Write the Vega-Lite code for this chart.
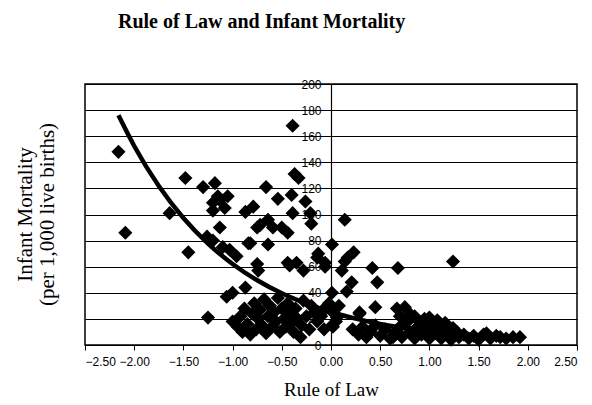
{
  "$schema": "https://vega.github.io/schema/vega-lite/v6.json",
  "width": 492,
  "height": 261,
  "autosize": "none",
  "padding": {"left": 85, "top": 84, "right": 15, "bottom": 60},
  "background": "white",
  "title": {
    "text": "Rule of Law and Infant Mortality",
    "font": "Liberation Serif",
    "fontSize": 20,
    "fontWeight": "bold",
    "color": "black",
    "anchor": "start",
    "frame": "group",
    "dx": 33,
    "offset": 46
  },
  "config": {
    "view": {"stroke": "black", "strokeWidth": 1.5},
    "axis": {
      "labelFont": "Liberation Sans",
      "labelFontSize": 12,
      "labelColor": "black",
      "titleFont": "Liberation Serif",
      "titleFontSize": 19,
      "titleFontWeight": "normal",
      "titleColor": "black",
      "domainColor": "black",
      "tickColor": "black"
    }
  },
  "datasets": {
    "pts": [
      {"law": -2.16, "im": 148}, {"law": -2.09, "im": 86}, {"law": -1.64, "im": 101}, {"law": -1.48, "im": 128},
      {"law": -1.45, "im": 71}, {"law": -1.30, "im": 121}, {"law": -1.25, "im": 21}, {"law": -1.18, "im": 124},
      {"law": -1.15, "im": 114}, {"law": -1.20, "im": 109}, {"law": -1.13, "im": 111}, {"law": -1.05, "im": 114},
      {"law": -1.08, "im": 105}, {"law": -1.20, "im": 103}, {"law": -1.13, "im": 90}, {"law": -1.26, "im": 83},
      {"law": -1.20, "im": 80}, {"law": -1.10, "im": 75}, {"law": -1.03, "im": 73}, {"law": -0.96, "im": 68},
      {"law": -0.87, "im": 102}, {"law": -0.79, "im": 106}, {"law": -0.82, "im": 78}, {"law": -0.75, "im": 90},
      {"law": -0.72, "im": 92}, {"law": -0.64, "im": 96}, {"law": -0.59, "im": 90}, {"law": -0.66, "im": 121},
      {"law": -0.54, "im": 112}, {"law": -0.40, "im": 115}, {"law": -0.39, "im": 168}, {"law": -0.37, "im": 131},
      {"law": -0.33, "im": 128}, {"law": -0.26, "im": 110}, {"law": -0.39, "im": 101}, {"law": -0.21, "im": 101},
      {"law": -0.20, "im": 93}, {"law": -0.50, "im": 90}, {"law": -0.44, "im": 86}, {"law": -0.64, "im": 77},
      {"law": -0.84, "im": 78}, {"law": -0.75, "im": 62}, {"law": -0.74, "im": 57}, {"law": -0.44, "im": 63},
      {"law": -0.35, "im": 63}, {"law": -0.42, "im": 61}, {"law": -0.28, "im": 57}, {"law": -0.13, "im": 70},
      {"law": -0.14, "im": 67}, {"law": -0.06, "im": 63}, {"law": -0.06, "im": 60}, {"law": 0.01, "im": 77},
      {"law": 0.14, "im": 96}, {"law": 0.23, "im": 71}, {"law": 0.17, "im": 67}, {"law": 0.14, "im": 64},
      {"law": 0.11, "im": 57}, {"law": 0.42, "im": 59}, {"law": 0.68, "im": 59}, {"law": 0.47, "im": 48},
      {"law": 1.24, "im": 64}, {"law": 0.21, "im": 48}, {"law": 0.16, "im": 41}, {"law": 0.01, "im": 40},
      {"law": -1.06, "im": 37}, {"law": -1.00, "im": 40}, {"law": -0.87, "im": 44}, {"law": 0.45, "im": 29},
      {"law": 0.67, "im": 28}, {"law": 0.75, "im": 29}, {"law": 0.29, "im": 24}, {"law": 0.01, "im": 15},
      {"law": 0.80, "im": 24}, {"law": 1.00, "im": 21}, {"law": 1.08, "im": 19}, {"law": 1.16, "im": 17},
      {"law": 1.24, "im": 13}, {"law": -0.31, "im": 6},
      {"law": -1.00, "im": 18}, {"law": -0.95, "im": 14}, {"law": -0.92, "im": 22}, {"law": -0.90, "im": 10},
      {"law": -0.88, "im": 28}, {"law": -0.85, "im": 16}, {"law": -0.82, "im": 8}, {"law": -0.80, "im": 24},
      {"law": -0.78, "im": 32}, {"law": -0.76, "im": 12}, {"law": -0.74, "im": 20}, {"law": -0.72, "im": 27},
      {"law": -0.70, "im": 15}, {"law": -0.68, "im": 35}, {"law": -0.66, "im": 9}, {"law": -0.64, "im": 22},
      {"law": -0.62, "im": 30}, {"law": -0.60, "im": 14}, {"law": -0.58, "im": 25}, {"law": -0.56, "im": 18},
      {"law": -0.54, "im": 36}, {"law": -0.52, "im": 10}, {"law": -0.50, "im": 28}, {"law": -0.48, "im": 20},
      {"law": -0.46, "im": 14}, {"law": -0.44, "im": 32}, {"law": -0.42, "im": 24}, {"law": -0.40, "im": 17},
      {"law": -0.38, "im": 10}, {"law": -0.36, "im": 28}, {"law": -0.34, "im": 20}, {"law": -0.30, "im": 15},
      {"law": -0.28, "im": 34}, {"law": -0.25, "im": 22}, {"law": -0.22, "im": 12}, {"law": -0.20, "im": 30},
      {"law": -0.17, "im": 25}, {"law": -0.14, "im": 18}, {"law": -0.10, "im": 22}, {"law": -0.05, "im": 28},
      {"law": -0.02, "im": 32}, {"law": 0.02, "im": 25}, {"law": 0.05, "im": 18}, {"law": -0.07, "im": 12},
      {"law": 0.08, "im": 30}, {"law": -0.08, "im": 27}, {"law": 0.06, "im": 21}, {"law": 0.29, "im": 25},
      {"law": 0.22, "im": 12}, {"law": 0.28, "im": 8}, {"law": 0.32, "im": 14}, {"law": 0.36, "im": 6},
      {"law": 0.40, "im": 10}, {"law": 0.45, "im": 15}, {"law": 0.50, "im": 7}, {"law": 0.55, "im": 12},
      {"law": 0.60, "im": 5}, {"law": 0.65, "im": 10}, {"law": 0.70, "im": 14}, {"law": 0.72, "im": 6},
      {"law": 0.78, "im": 18}, {"law": 0.80, "im": 10}, {"law": 0.85, "im": 5}, {"law": 0.88, "im": 14},
      {"law": 0.92, "im": 8}, {"law": 0.95, "im": 12}, {"law": 1.00, "im": 5}, {"law": 1.02, "im": 15},
      {"law": 1.06, "im": 9}, {"law": 1.10, "im": 12}, {"law": 1.12, "im": 5}, {"law": 1.18, "im": 8},
      {"law": 1.22, "im": 4}, {"law": 1.28, "im": 10}, {"law": 1.30, "im": 6}, {"law": 1.35, "im": 8},
      {"law": 1.40, "im": 5}, {"law": 1.45, "im": 7}, {"law": 1.50, "im": 4}, {"law": 1.55, "im": 8},
      {"law": 1.58, "im": 9}, {"law": 1.62, "im": 5}, {"law": 1.68, "im": 7}, {"law": 1.72, "im": 6},
      {"law": 1.78, "im": 5}, {"law": 1.85, "im": 6}, {"law": 1.92, "im": 6}, {"law": 0.70, "im": 22},
      {"law": 0.75, "im": 20}, {"law": 0.85, "im": 22}, {"law": 0.90, "im": 18}, {"law": 0.95, "im": 20},
      {"law": 0.63, "im": 6}, {"law": 0.02, "im": 14}
    ],
    "curve": [
      {"law": -2.16, "im": 176}, {"law": -2.0, "im": 152.5}, {"law": -1.75, "im": 121.8}, {"law": -1.5, "im": 97.3},
      {"law": -1.25, "im": 77.7}, {"law": -1.0, "im": 62.1}, {"law": -0.75, "im": 49.6}, {"law": -0.5, "im": 39.6},
      {"law": -0.25, "im": 31.7}, {"law": 0.0, "im": 25.3}, {"law": 0.25, "im": 20.2}, {"law": 0.5, "im": 16.1},
      {"law": 0.75, "im": 12.9}, {"law": 1.0, "im": 10.3}, {"law": 1.25, "im": 8.2}, {"law": 1.5, "im": 6.6},
      {"law": 1.75, "im": 5.25}, {"law": 1.9, "im": 4.6}
    ]
  },
  "encoding": {
    "x": {
      "field": "law", "type": "quantitative",
      "scale": {"domain": [-2.5, 2.5], "nice": false, "zero": false},
      "axis": {
        "title": "Rule of Law",
        "values": [-2.5, -2, -1.5, -1, -0.5, 0, 0.5, 1, 1.5, 2, 2.5],
        "format": ".2f",
        "grid": false,
        "domain": false,
        "tickSize": 5,
        "labelPadding": 6,
        "labelOverlap": false,
        "titlePadding": 13
      }
    },
    "y": {
      "field": "im", "type": "quantitative",
      "scale": {"domain": [0, 200], "nice": false},
      "axis": {
        "title": ["Infant Mortality", "(per 1,000 live births)"],
        "titleFontSize": 21,
        "values": [0, 20, 40, 60, 80, 100, 120, 140, 160, 180, 200],
        "tickCount": 11,
        "offset": -246,
        "grid": true,
        "gridColor": "black",
        "gridWidth": 1.2,
        "gridOpacity": 1,
        "domain": true,
        "domainWidth": 1.2,
        "tickSize": 5,
        "labelPadding": 5,
        "labelOverlap": false,
        "labelSeparation": 0,
        "titleX": -306,
        "titleY": 130,
        "titleBaseline": "middle",
        "titleLineHeight": 22
      }
    }
  },
  "layer": [
    {
      "data": {"name": "pts"},
      "mark": {"type": "point", "shape": "diamond", "filled": true, "color": "black", "opacity": 1, "size": 200}
    },
    {
      "data": {"name": "curve"},
      "mark": {"type": "line", "color": "black", "strokeWidth": 4.5, "interpolate": "monotone"}
    }
  ]
}
